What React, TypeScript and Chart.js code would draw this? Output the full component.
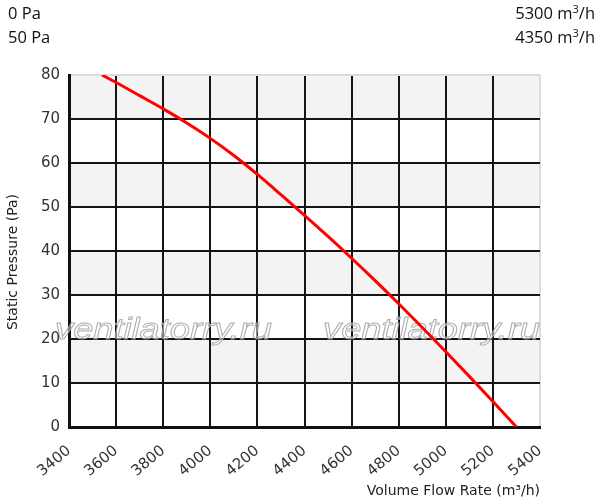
import React, { useEffect, useRef } from "react";
import { Chart, registerables } from "chart.js";

Chart.register(...registerables);

const flowRates = [3540, 3600, 3700, 3800, 3900, 4000, 4100, 4200, 4300, 4400, 4500, 4600, 4700, 4800, 4900, 5000, 5100, 5200, 5300];
const pressures = [80, 78.3, 75.3, 72.3, 69.1, 65.6, 61.7, 57.4, 52.8, 48.1, 43.3, 38.35, 33.25, 28.0, 22.6, 17.1, 11.5, 5.8, 0];

const headerPressures = ["0 Pa", "50 Pa"];
const headerFlows = ["5300", "4350"];

const xMin = 3400;
const xMax = 5400;
const xStep = 200;
const yMin = 0;
const yMax = 80;
const yStep = 10;
const shadedBands = [[70, 80], [50, 60], [30, 40], [10, 20]];
const watermarkText = "ventilatorry.ru";
const yTitle = "Static Pressure (Pa)";
const xTitle = "Volume Flow Rate (m³/h)";

const TICK_FONT = "'DejaVu Sans', sans-serif";

const bandsPlugin = {
  id: "bands",
  beforeDraw(chart: any) {
    const { ctx, chartArea, scales } = chart;
    const y = scales.y;
    ctx.save();
    ctx.fillStyle = "#f3f3f3";
    for (const [a, b] of shadedBands) {
      const top = y.getPixelForValue(b);
      const bot = y.getPixelForValue(a);
      ctx.fillRect(chartArea.left, top, chartArea.right - chartArea.left, bot - top);
    }
    ctx.restore();
  },
};

const watermarkPlugin = {
  id: "watermark",
  beforeDatasetsDraw(chart: any) {
    const { ctx } = chart;
    ctx.save();
    ctx.font = "italic 29px 'Liberation Sans', Arial, sans-serif";
    ctx.textBaseline = "alphabetic";
    const positions = [55, 323];
    for (const px of positions) {
      ctx.save();
      ctx.translate(px, 339);
      ctx.scale(1.25, 1);
      ctx.fillStyle = "rgba(255,255,255,0.45)";
      ctx.fillText(watermarkText, 0, 0);
      ctx.strokeStyle = "rgba(160,160,160,0.85)";
      ctx.lineWidth = 0.9;
      ctx.strokeText(watermarkText, 0, 0);
      ctx.restore();
    }
    ctx.restore();
  },
};

const yTitlePlugin = {
  id: "yTitle",
  afterDraw(chart: any) {
    const { ctx, chartArea } = chart;
    ctx.save();
    ctx.translate(13, (chartArea.top + chartArea.bottom) / 2 + 11);
    ctx.rotate(-Math.PI / 2);
    ctx.font = "14px " + TICK_FONT;
    ctx.fillStyle = "#222";
    ctx.textAlign = "center";
    ctx.textBaseline = "middle";
    ctx.fillText(yTitle, 0, 0);
    ctx.restore();
  },
};

export default function App() {
  const canvasRef = useRef<HTMLCanvasElement>(null);

  useEffect(() => {
    if (!canvasRef.current) return;
    const points = flowRates.map((f, i) => ({ x: f, y: pressures[i] }));
    const chart = new Chart(canvasRef.current, {
      type: "line",
      data: {
        datasets: [
          {
            data: points,
            borderColor: "#ff0000",
            borderWidth: 3,
            pointRadius: 0,
            cubicInterpolationMode: "monotone",
            fill: false,
          },
        ],
      },
      options: {
        animation: false,
        responsive: false,
        maintainAspectRatio: false,
        layout: { padding: { top: 75, right: 57, bottom: 0, left: 0 } },
        plugins: {
          legend: { display: false },
          tooltip: { enabled: false },
        },
        scales: {
          x: {
            type: "linear",
            min: xMin,
            max: xMax,
            afterFit(scale: any) {
              scale.height = 73;
            },
            ticks: {
              stepSize: xStep,
              minRotation: 40,
              maxRotation: 40,
              padding: 15,
              color: "#333",
              font: { family: TICK_FONT, size: 15 },
              callback: (v: any) => String(v),
            },
            grid: {
              drawTicks: false,
              lineWidth: 2,
              color: (ctx: any) => (ctx.tick && ctx.tick.value === xMax ? "#dcdcdc" : "#151515"),
            },
            border: { display: true, color: "#111", width: 3 },
            title: {
              display: true,
              text: xTitle,
              align: "end",
              color: "#222",
              font: { family: TICK_FONT, size: 14 },
              padding: { top: 4, bottom: 0 },
            },
          },
          y: {
            type: "linear",
            min: yMin,
            max: yMax,
            afterFit(scale: any) {
              scale.width = 69;
            },
            ticks: {
              stepSize: yStep,
              padding: 9,
              color: "#333",
              font: { family: TICK_FONT, size: 15 },
            },
            grid: {
              drawTicks: false,
              lineWidth: 2,
              color: (ctx: any) => (ctx.tick && ctx.tick.value === yMax ? "#dcdcdc" : "#151515"),
            },
            border: { display: true, color: "#111", width: 3 },
            title: { display: false },
          },
        },
      },
      plugins: [bandsPlugin, watermarkPlugin, yTitlePlugin],
    } as any);
    return () => chart.destroy();
  }, []);

  const headerStyle: React.CSSProperties = {
    position: "absolute",
    top: 1,
    fontFamily: "'Open Sans', sans-serif",
    fontSize: 16.5,
    lineHeight: "24px",
    color: "#111",
  };

  return (
    <div style={{ position: "absolute", left: 0, top: 0, width: 597, height: 500, background: "#fff" }}>
      <canvas ref={canvasRef} width={597} height={500} style={{ position: "absolute", left: 0, top: 0 }} />
      <div style={{ ...headerStyle, left: 8 }}>
        {headerPressures.map((t) => (
          <div key={t}>{t}</div>
        ))}
      </div>
      <div style={{ ...headerStyle, right: 2, textAlign: "right" }}>
        {headerFlows.map((t) => (
          <div key={t}>
            {t} m<sup style={{ fontSize: 11, lineHeight: 0 }}>3</sup>/h
          </div>
        ))}
      </div>
    </div>
  );
}
